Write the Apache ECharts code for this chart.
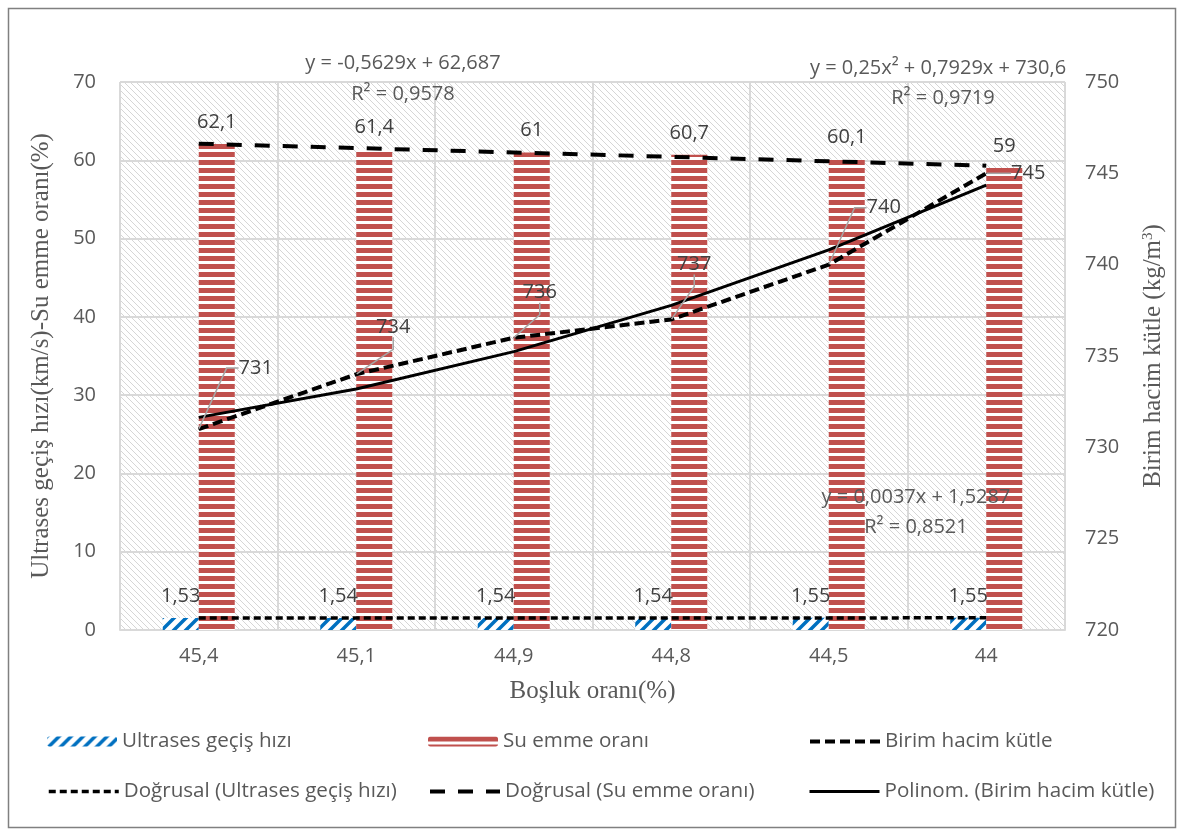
<!DOCTYPE html>
<html><head><meta charset="utf-8">
<script src="https://cdn.jsdelivr.net/npm/echarts@6/dist/echarts.min.js"></script>
<style>html,body{margin:0;padding:0;background:#fff}#c{width:1179px;height:836px}</style>
</head><body><div id="c"></div>
<script>
// ---- data ----
const categories = ['45,4', '45,1', '44,9', '44,8', '44,5', '44'];
const ultrasesValues = [1.53, 1.54, 1.54, 1.54, 1.55, 1.55];
const suEmmeValues = [62.1, 61.4, 61, 60.7, 60.1, 59];
const birimValues = [731, 734, 736, 737, 740, 745];
const ultrasesTrend = [1.532, 1.536, 1.540, 1.543, 1.547, 1.551];
const suEmmeTrend = [62.12, 61.56, 61.00, 60.44, 59.87, 59.31];
const birimPoly = [731.64, 733.19, 735.24, 737.77, 740.81, 744.36];
const leftAxisRange = [0, 70, 10];
const rightAxisRange = [720, 750, 5];
const seriesNames = ['Ultrases geçiş hızı', 'Su emme oranı', 'Birim hacim kütle',
  'Doğrusal (Ultrases geçiş hızı)', 'Doğrusal (Su emme oranı)', 'Polinom. (Birim hacim kütle)'];
const trendTexts = [
  ['y = -0,5629x + 62,687', 'R² = 0,9578'],
  ['y = 0,25x² + 0,7929x + 730,6', 'R² = 0,9719'],
  ['y = 0,0037x + 1,5287', 'R² = 0,8521']
];

// ---- layout / style ----
const SANS = 'Open Sans';
const SERIF = 'Liberation Serif';
const TXT = '#595959';
const LBL = '#404040';
const birimLabelOffsets = [[53, -61], [33, -47], [22, -45], [19, -55], [51, -57], [38, 0]];
const trendTextPos = [[403, 63, 403, 94], [938, 68, 943, 98], [916, 497, 916, 527]];
const styles = {
  birim: {color: '#000', width: 4, type: [10, 5]},
  trendU: {color: '#000', width: 3.5, type: [7, 4]},
  trendS: {color: '#000', width: 4, type: [15, 13]},
  poly: {color: '#000', width: 3, type: 'solid'}
};

function makeCanvas(w, h, draw) {
  const c = document.createElement('canvas'); c.width = w; c.height = h;
  draw(c.getContext('2d')); return c;
}
const bgPattern = makeCanvas(6, 6, g => {
  g.fillStyle = '#fff'; g.fillRect(0, 0, 6, 6);
  g.strokeStyle = '#d6d6d6'; g.lineWidth = 1;
  g.beginPath();
  g.moveTo(-1, -1); g.lineTo(7, 7);
  g.moveTo(5, -1); g.lineTo(7, 1);
  g.moveTo(-1, 5); g.lineTo(1, 7);
  g.stroke();
});
const bluePattern = makeCanvas(12, 12, g => {
  g.fillStyle = '#fff'; g.fillRect(0, 0, 12, 12);
  g.strokeStyle = '#0070c0'; g.lineWidth = 3.5;
  g.beginPath();
  g.moveTo(-1, 13); g.lineTo(13, -1);
  g.moveTo(-2, 2); g.lineTo(2, -2);
  g.moveTo(10, 14); g.lineTo(14, 10);
  g.stroke();
});
const redPattern = makeCanvas(4, 8, g => {
  g.fillStyle = '#fff'; g.fillRect(0, 0, 4, 8);
  g.fillStyle = '#c0504d'; g.fillRect(0, 0, 4, 5);
});

const fmt = v => String(v).replace('.', ',');
const barLabel = {show: true, position: 'top', distance: 12, color: LBL, fontSize: 20, fontFamily: SANS,
  formatter: p => fmt(p.value)};

function legend(item, left, top) {
  return {
    data: [item], left: left, top: top, padding: 0, itemWidth: 70, itemHeight: 10, itemGap: 0,
    selectedMode: false, textStyle: {fontSize: 20.6, color: TXT, fontFamily: SANS}
  };
}
const lineItem = (n, s) => ({name: n, itemStyle: {opacity: 0}, lineStyle: {width: s.width, type: s.type, color: s.color}});

const graphics = [{type: 'rect', silent: true, z: 100, shape: {x: 8.5, y: 8.5, width: 1167, height: 819},
  style: {fill: 'none', stroke: '#808080', lineWidth: 1.5}}];
trendTexts.forEach((t, i) => {
  const p = trendTextPos[i];
  [0, 1].forEach(k => graphics.push({type: 'text', silent: true, z: 100, x: p[k * 2], y: p[k * 2 + 1],
    style: {text: t[k], textAlign: 'center', align: 'center', textVerticalAlign: 'middle', verticalAlign: 'middle',
      fontSize: 20, fontFamily: SANS, fill: TXT}}));
});

const option = {
  animation: false,
  backgroundColor: '#fff',
  grid: {left: 120, right: 114, top: 82, bottom: 206, show: true, borderWidth: 0,
    backgroundColor: {image: bgPattern, repeat: 'repeat'}},
  xAxis: {
    type: 'category', data: categories,
    axisLine: {lineStyle: {color: '#d9d9d9', width: 2}},
    axisTick: {show: false},
    axisLabel: {color: TXT, fontSize: 20, fontFamily: SANS, margin: 16},
    splitLine: {show: true, interval: 0, lineStyle: {color: '#d9d9d9', width: 2}},
    name: 'Boşluk oranı(%)', nameLocation: 'middle', nameGap: 49,
    nameTextStyle: {fontFamily: SERIF, fontSize: 25, color: TXT}
  },
  yAxis: [{
    type: 'value', min: leftAxisRange[0], max: leftAxisRange[1], interval: leftAxisRange[2],
    axisLine: {show: false}, axisTick: {show: false},
    axisLabel: {color: TXT, fontSize: 20, fontFamily: SANS, margin: 24},
    splitLine: {lineStyle: {color: '#d9d9d9', width: 2}},
    name: 'Ultrases geçiş hızı(km/s)-Su emme oranı(%)', nameLocation: 'middle', nameRotate: 90, nameGap: 66,
    nameTextStyle: {fontFamily: SERIF, fontSize: 25, color: TXT}
  }, {
    type: 'value', min: rightAxisRange[0], max: rightAxisRange[1], interval: rightAxisRange[2],
    axisLine: {show: false}, axisTick: {show: false}, splitLine: {show: false},
    axisLabel: {color: TXT, fontSize: 20, fontFamily: SANS, margin: 20},
    name: 'Birim hacim kütle (kg/m{sup|3})', nameLocation: 'middle', nameRotate: 90, nameGap: 76,
    nameTextStyle: {fontFamily: SERIF, fontSize: 25, color: TXT,
      rich: {sup: {fontFamily: SERIF, fontSize: 15, color: TXT, verticalAlign: 'top', padding: [0, 0, 10, 0]}}}
  }],
  legend: [
    legend(seriesNames[0], 47, 731),
    legend(seriesNames[1], 428, 731),
    legend(lineItem(seriesNames[2], styles.birim), 808, 731),
    legend(lineItem(seriesNames[3], styles.trendU), 47, 781),
    legend(lineItem(seriesNames[4], styles.trendS), 428, 781),
    legend(lineItem(seriesNames[5], styles.poly), 808, 781)
  ],
  graphic: graphics,
  series: [
    {name: seriesNames[0], type: 'bar', data: ultrasesValues, barWidth: 36, barGap: '0%',
      itemStyle: {color: {image: bluePattern, repeat: 'repeat'}}, label: barLabel, z: 2},
    {name: seriesNames[1], type: 'bar', data: suEmmeValues, barWidth: 36, barGap: '0%',
      itemStyle: {color: {image: redPattern, repeat: 'repeat'}}, label: barLabel, z: 2},
    {name: seriesNames[2], type: 'line', yAxisIndex: 1, data: birimValues,
      symbol: 'circle', symbolSize: 1, itemStyle: {color: '#000'},
      lineStyle: styles.birim, z: 4,
      label: {show: true, position: 'inside', color: LBL, fontSize: 20, fontFamily: SANS, padding: [0, 0, 0, 8]},
      labelLayout: p => ({dx: birimLabelOffsets[p.dataIndex][0], dy: birimLabelOffsets[p.dataIndex][1]}),
      labelLine: {show: true, length2: 12, lineStyle: {color: '#a6a6a6', width: 1.5}}},
    {name: seriesNames[3], type: 'line', data: ultrasesTrend, symbol: 'none', itemStyle: {color: '#000'},
      lineStyle: styles.trendU, z: 4},
    {name: seriesNames[4], type: 'line', data: suEmmeTrend, symbol: 'none', itemStyle: {color: '#000'},
      lineStyle: styles.trendS, z: 4},
    {name: seriesNames[5], type: 'line', yAxisIndex: 1, data: birimPoly, symbol: 'none', itemStyle: {color: '#000'},
      lineStyle: styles.poly, z: 4}
  ]
};
echarts.init(document.getElementById('c')).setOption(option);
</script></body></html>
